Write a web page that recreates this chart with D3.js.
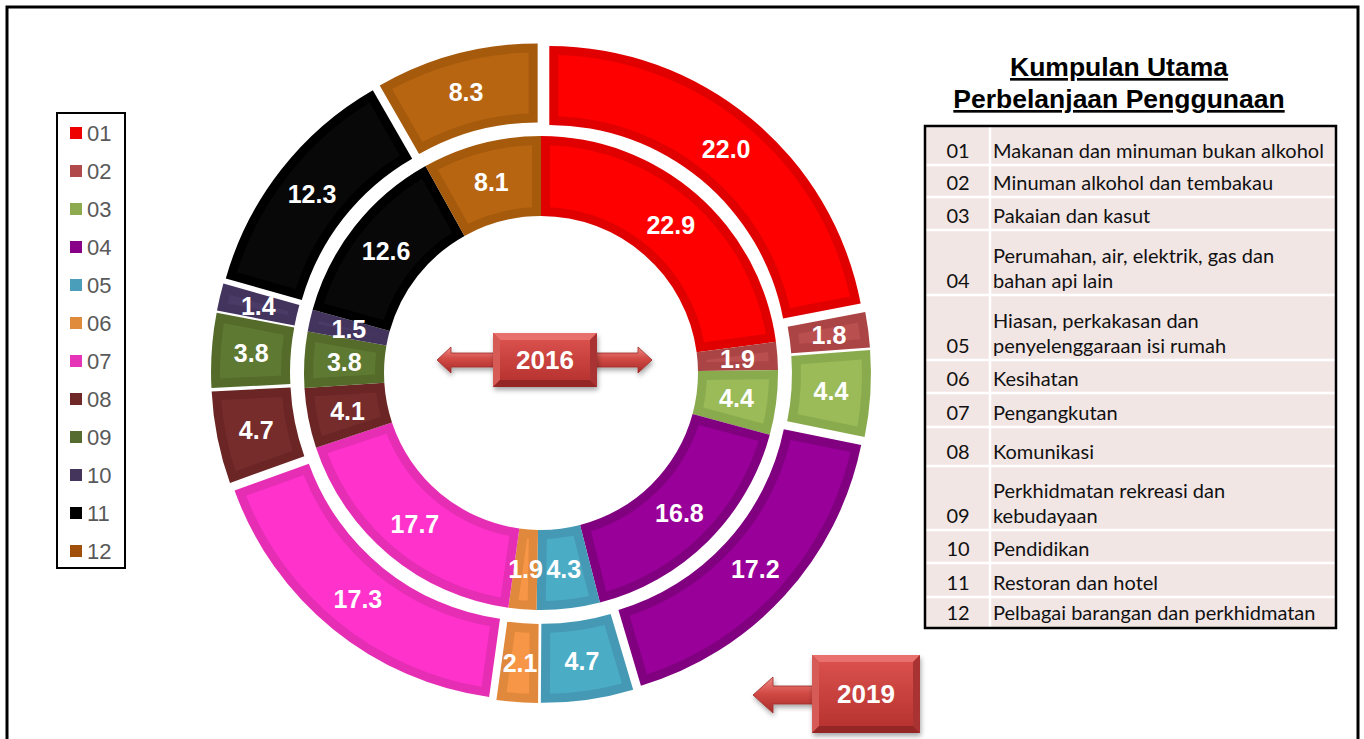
<!DOCTYPE html>
<html>
<head>
<meta charset="utf-8">
<script src="https://cdn.jsdelivr.net/npm/d3@7"></script>
<style>
  body { margin: 0; background: #fff; }
  svg { display: block; }
</style>
</head>
<body>
<script>
// data
const categories = ['01', '02', '03', '04', '05', '06', '07', '08', '09', '10', '11', '12']
const values2016 = [22.9, 1.9, 4.4, 16.8, 4.3, 1.9, 17.7, 4.1, 3.8, 1.5, 12.6, 8.1]
const values2019 = [22.0, 1.8, 4.4, 17.2, 4.7, 2.1, 17.3, 4.7, 3.8, 1.4, 12.3, 8.3]
const descriptions = [
  ['Makanan dan minuman bukan alkohol'],
  ['Minuman alkohol dan tembakau'],
  ['Pakaian dan kasut'],
  ['Perumahan, air, elektrik, gas dan', 'bahan api lain'],
  ['Hiasan, perkakasan dan', 'penyelenggaraan isi rumah'],
  ['Kesihatan'],
  ['Pengangkutan'],
  ['Komunikasi'],
  ['Perkhidmatan rekreasi dan', 'kebudayaan'],
  ['Pendidikan'],
  ['Restoran dan hotel'],
  ['Pelbagai barangan dan perkhidmatan']
]
const titleLines = ['Kumpulan Utama', 'Perbelanjaan Penggunaan']

// styles
const mainColors = ['#ff0000', '#b94f4f', '#9bbb59', '#990099', '#4bacc6', '#f79646',
  '#ff33cc', '#772c2c', '#5e7a32', '#4a3a66', '#080808', '#b86512']
const edgeColors = ['#e00000', '#ab4545', '#8aaa4e', '#800080', '#4599b4', '#e0883c',
  '#e62eb5', '#6b2525', '#546b2a', '#43345e', '#000000', '#a65a0c']
const legendColors = ['#ee0000', '#b04a4a', '#8eaa4e', '#880088', '#4a9eba', '#e08a3c',
  '#e634b8', '#6f2727', '#556b2f', '#44355c', '#000000', '#a0500a']

const W = 1364, H = 739
const svg = d3.select('body').append('svg')
  .attr('width', W)
  .attr('height', H)

const defs = svg.append('defs')

const boxGrad = defs.append('linearGradient')
  .attr('id', 'boxGrad').attr('x1', 0).attr('y1', 0).attr('x2', 0).attr('y2', 1)
boxGrad.append('stop').attr('offset', '0%').attr('stop-color', '#d9504c')
boxGrad.append('stop').attr('offset', '100%').attr('stop-color', '#b83431')

const arrowGrad = defs.append('linearGradient')
  .attr('id', 'arrowGrad').attr('x1', 0).attr('y1', 0).attr('x2', 0).attr('y2', 1)
arrowGrad.append('stop').attr('offset', '0%').attr('stop-color', '#f08a85')
arrowGrad.append('stop').attr('offset', '45%').attr('stop-color', '#d24a45')
arrowGrad.append('stop').attr('offset', '100%').attr('stop-color', '#a82c2a')

const shadow = defs.append('filter').attr('id', 'shadow')
  .attr('x', '-20%').attr('y', '-20%').attr('width', '140%').attr('height', '150%')
shadow.append('feDropShadow')
  .attr('dx', 1).attr('dy', 3).attr('stdDeviation', 2.5)
  .attr('flood-color', '#000').attr('flood-opacity', 0.35)

// outer frame
svg.append('rect')
  .attr('x', 7).attr('y', 7)
  .attr('width', 1351).attr('height', 800)
  .attr('fill', 'none')
  .attr('stroke', '#000')
  .attr('stroke-width', 3)

// donut
const cx = 541, cy = 373
const inset = 9
const explode = 13
const pie = d3.pie().sort(null).value(d => d)
const labelLayer = []

function drawRing(values, r0, r1, offset) {
  const arc = d3.arc().innerRadius(r0).outerRadius(r1)
  const arcIn = d3.arc().innerRadius(r0 + inset).outerRadius(r1 - inset)
    .padRadius(200).padAngle(2 * inset / 200)
  const data = pie(values)
  const shift = d => {
    const a = (d.startAngle + d.endAngle) / 2
    return [offset * Math.sin(a), -offset * Math.cos(a)]
  }

  const g = svg.append('g').attr('transform', `translate(${cx},${cy})`)
  const slices = g.selectAll('g.slice')
    .data(data)
    .enter()
    .append('g')
    .attr('class', 'slice')
    .attr('transform', d => `translate(${shift(d)})`)

  slices.append('path')
    .attr('d', arc)
    .attr('fill', (d, i) => edgeColors[i])

  slices.append('path')
    .attr('d', arcIn)
    .attr('fill', (d, i) => mainColors[i])

  data.forEach(d => {
    const c = arc.centroid(d)
    const s = shift(d)
    labelLayer.push({ x: cx + c[0] + s[0], y: cy + c[1] + s[1], v: d.data })
  })
}

drawRing(values2016, 157, 237, 0)
drawRing(values2019, 238, 317, explode)

// labels on top of all slices
svg.append('g').selectAll('text')
  .data(labelLayer)
  .enter()
  .append('text')
  .attr('x', d => d.x)
  .attr('y', d => d.y)
  .attr('text-anchor', 'middle')
  .attr('dy', '0.36em')
  .attr('fill', '#fff')
  .style('font-family', '"Liberation Sans", Arial, sans-serif')
  .style('font-size', '25px')
  .style('font-weight', 'bold')
  .text(d => d.v.toFixed(1))

// year boxes with arrows
function drawArrow(points) {
  svg.append('polygon')
    .attr('points', points.map(p => p.join(',')).join(' '))
    .attr('fill', 'url(#arrowGrad)')
    .attr('stroke', '#9c2b28')
    .attr('stroke-width', 0.8)
    .attr('filter', 'url(#shadow)')
}

function drawBox(x, y, w, h, label) {
  const g = svg.append('g').attr('filter', 'url(#shadow)')
  const b = 7
  g.append('rect').attr('x', x).attr('y', y).attr('width', w).attr('height', h)
    .attr('fill', '#c43d3a')
  // bevel faces
  g.append('polygon')
    .attr('points', [[x, y], [x + w, y], [x + w - b, y + b], [x + b, y + b]].join(' '))
    .attr('fill', '#e8716d')
  g.append('polygon')
    .attr('points', [[x, y], [x + b, y + b], [x + b, y + h - b], [x, y + h]].join(' '))
    .attr('fill', '#d65a56')
  g.append('polygon')
    .attr('points', [[x + w, y], [x + w, y + h], [x + w - b, y + h - b], [x + w - b, y + b]].join(' '))
    .attr('fill', '#a93230')
  g.append('polygon')
    .attr('points', [[x, y + h], [x + b, y + h - b], [x + w - b, y + h - b], [x + w, y + h]].join(' '))
    .attr('fill', '#952826')
  g.append('rect').attr('x', x + b).attr('y', y + b).attr('width', w - 2 * b).attr('height', h - 2 * b)
    .attr('fill', 'url(#boxGrad)')
  svg.append('text')
    .attr('x', x + w / 2).attr('y', y + h / 2)
    .attr('dy', '0.36em')
    .attr('text-anchor', 'middle')
    .attr('fill', '#fff')
    .style('font-family', '"Liberation Sans", Arial, sans-serif')
    .style('font-size', '26px')
    .style('font-weight', 'bold')
    .text(label)
}

drawArrow([[437, 360], [451, 347], [451, 353], [496, 353], [496, 367], [451, 367], [451, 373]])
drawArrow([[652, 360], [638, 347], [638, 353], [594, 353], [594, 367], [638, 367], [638, 373]])
drawBox(493, 333, 104, 54, '2016')

drawArrow([[753, 695], [773, 677], [773, 686], [815, 686], [815, 704], [773, 704], [773, 713]])
drawBox(812, 655, 108, 78, '2019')

// legend
const legend = svg.append('g')
legend.append('rect')
  .attr('x', 57).attr('y', 113)
  .attr('width', 68).attr('height', 455)
  .attr('fill', '#fff')
  .attr('stroke', '#000')
  .attr('stroke-width', 2)

const legendItems = legend.selectAll('g.item')
  .data(categories)
  .enter()
  .append('g')
  .attr('transform', (d, i) => `translate(0,${133 + i * 38})`)

legendItems.append('rect')
  .attr('x', 70).attr('y', -6)
  .attr('width', 12).attr('height', 12)
  .attr('fill', (d, i) => legendColors[i])

legendItems.append('text')
  .attr('x', 87)
  .attr('dy', '0.36em')
  .attr('fill', '#595959')
  .style('font-family', '"Liberation Sans", Arial, sans-serif')
  .style('font-size', '22px')
  .text(d => d)

// title
svg.append('g').selectAll('text')
  .data(titleLines)
  .enter()
  .append('text')
  .attr('x', 1119)
  .attr('y', (d, i) => 76 + i * 32)
  .attr('text-anchor', 'middle')
  .attr('fill', '#000')
  .style('font-family', '"Liberation Sans", Arial, sans-serif')
  .style('font-size', '26.5px')
  .style('font-weight', 'bold')
  .style('text-decoration', 'underline')
  .text(d => d)

// table
const tx0 = 925, tx1 = 1336, ty0 = 126
const colX = 990
const rowHeights = [39, 32, 33, 65, 65, 33, 34, 39, 64, 33, 34, 30]
const rowBottoms = d3.cumsum(rowHeights).map(v => ty0 + v)
const ty1 = rowBottoms[rowBottoms.length - 1] + 1

const table = svg.append('g')
table.append('rect')
  .attr('x', tx0).attr('y', ty0)
  .attr('width', tx1 - tx0).attr('height', ty1 - ty0)
  .attr('fill', '#f2e6e5')

table.selectAll('line.row')
  .data(rowBottoms.slice(0, -1))
  .enter()
  .append('line')
  .attr('x1', tx0).attr('x2', tx1)
  .attr('y1', d => d).attr('y2', d => d)
  .attr('stroke', '#fff')
  .attr('stroke-width', 2.5)

table.append('line')
  .attr('x1', colX).attr('x2', colX)
  .attr('y1', ty0).attr('y2', ty1)
  .attr('stroke', '#fff')
  .attr('stroke-width', 2.5)

const rows = table.selectAll('g.row')
  .data(categories)
  .enter()
  .append('g')
  .attr('transform', (d, i) => `translate(0,${rowBottoms[i] - 7})`)

const tableFont = 'Lato, "Open Sans", sans-serif'

rows.append('text')
  .attr('x', 958)
  .attr('text-anchor', 'middle')
  .attr('fill', '#111')
  .style('font-family', tableFont)
  .style('font-size', '20px')
  .text(d => d)

rows.each(function (d, i) {
  const lines = descriptions[i]
  d3.select(this).selectAll('text.desc')
    .data(lines)
    .enter()
    .append('text')
    .attr('class', 'desc')
    .attr('x', 993)
    .attr('y', (t, j) => (j - lines.length + 1) * 25)
    .attr('fill', '#111')
    .style('font-family', tableFont)
    .style('font-size', '20px')
    .text(t => t)
})

table.append('rect')
  .attr('x', tx0).attr('y', ty0)
  .attr('width', tx1 - tx0).attr('height', ty1 - ty0)
  .attr('fill', 'none')
  .attr('stroke', '#000')
  .attr('stroke-width', 2.5)
</script>
</body>
</html>
